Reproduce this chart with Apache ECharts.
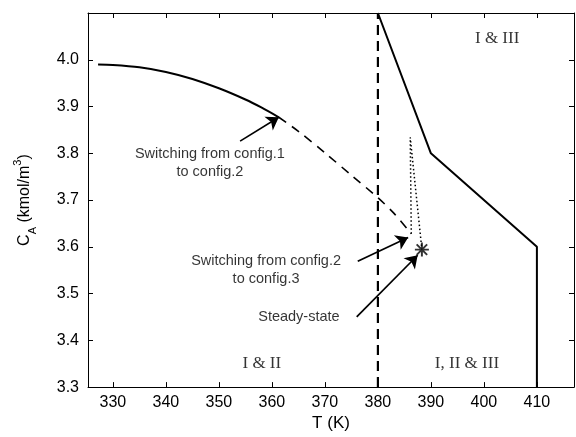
<!DOCTYPE html>
<html>
<head>
<meta charset="utf-8">
<script src="https://cdn.jsdelivr.net/npm/echarts@6/dist/echarts.min.js"></script>
<style>html,body{margin:0;padding:0;background:#fff}#c{width:576px;height:437px}</style>
</head>
<body>
<div id="c"></div>
<script>
// ---- data ----
const xTicks = [330, 340, 350, 360, 370, 380, 390, 400, 410];
const yTicks = [3.3, 3.4, 3.5, 3.6, 3.7, 3.8, 3.9, 4.0];
const config1T = [327.2, 330, 335, 340, 345, 350, 355, 358, 361.3];
const config1C = [3.990, 3.989, 3.984, 3.974, 3.959, 3.939, 3.915, 3.898, 3.877];
const config2T = [361.3, 365, 370, 375, 380, 383, 386.3];
const config2C = [3.877, 3.847, 3.801, 3.753, 3.705, 3.672, 3.628];
const config3T = [386.3, 386.1, 388.3];
const config3C = [3.628, 3.834, 3.594];
const boundT = [380, 390, 410, 410];
const boundC = [4.1, 3.8, 3.6, 3.3];
const switchT = [380, 380];
const switchC = [3.3, 4.1];
const steadyT = 388.3, steadyC = 3.594;
const regionLabels = [
  {t: 402.5, c: 4.045, text: 'I & III'},
  {t: 358.1, c: 3.350, text: 'I & II'},
  {t: 396.8, c: 3.350, text: 'I, II & III'}
];
const notes = [
  {t: 348.3, c: 3.779, text: 'Switching from config.1\nto config.2'},
  {t: 358.9, c: 3.550, text: 'Switching from config.2\nto config.3'},
  {t: 365.1, c: 3.450, text: 'Steady-state'}
];
const arrows = [
  [[354.0, 3.826], [361.3, 3.877]],
  [[376.2, 3.569], [385.7, 3.620]],
  [[376.0, 3.450], [387.5, 3.582]]
];

const zip = (a, b) => a.map((v, i) => [v, b[i]]);
const sansFont = 'Liberation Sans, Arial, sans-serif';
const serifFont = 'Liberation Serif, Times New Roman, serif';

const chart = echarts.init(document.getElementById('c'), null, {renderer: 'canvas'});
const axisBase = {
  axisLine: {show: true, onZero: false, lineStyle: {color: '#000', width: 1}},
  splitLine: {show: false}
};
chart.setOption({
  backgroundColor: '#fff',
  animation: false,
  grid: {left: 88, right: 2, top: 13, bottom: 47},
  xAxis: [
    Object.assign({}, axisBase, {
      type: 'value', min: 325.3, max: 417, position: 'bottom',
      name: 'T (K)', nameLocation: 'middle', nameGap: 26,
      nameTextStyle: {fontFamily: sansFont, fontSize: 17, color: '#000'},
      axisTick: {show: true, inside: true, length: 5, customValues: xTicks, lineStyle: {color: '#000'}},
      axisLabel: {show: true, customValues: xTicks, fontFamily: sansFont, fontSize: 16, color: '#000', margin: 7}
    }),
    Object.assign({}, axisBase, {
      type: 'value', min: 325.3, max: 417, position: 'top',
      axisTick: {show: true, inside: true, length: 5, customValues: xTicks, lineStyle: {color: '#000'}},
      axisLabel: {show: false}
    })
  ],
  yAxis: [
    Object.assign({}, axisBase, {
      type: 'value', min: 3.3, max: 4.1, position: 'left',
      name: '{n|C}{sub|A}{n| (kmol/m}{sup|3}{n|)}', nameLocation: 'middle', nameGap: 50, nameRotate: 90,
      nameTextStyle: {
        fontFamily: sansFont, fontSize: 16, color: '#000',
        rich: {
          n: {fontFamily: sansFont, fontSize: 16, lineHeight: 26, color: '#000'},
          sub: {fontFamily: sansFont, fontSize: 11, lineHeight: 11, verticalAlign: 'bottom', color: '#000'},
          sup: {fontFamily: sansFont, fontSize: 11, lineHeight: 11, verticalAlign: 'top', color: '#000'}
        }
      },
      axisTick: {show: true, inside: true, length: 5, customValues: yTicks, lineStyle: {color: '#000'}},
      axisLabel: {show: true, customValues: yTicks, fontFamily: sansFont, fontSize: 16, color: '#000', margin: 9,
        formatter: v => v.toFixed(1)}
    }),
    Object.assign({}, axisBase, {
      type: 'value', min: 3.3, max: 4.1, position: 'right',
      axisTick: {show: true, inside: true, length: 5, customValues: yTicks, lineStyle: {color: '#000'}},
      axisLabel: {show: false}
    })
  ],
  series: [
    {type: 'line', data: zip(config1T, config1C), showSymbol: false, smooth: 0.3,
      lineStyle: {color: '#000', width: 2}},
    {type: 'line', data: zip(config2T, config2C), showSymbol: false, smooth: 0.3,
      lineStyle: {color: '#000', width: 1.6, type: [9, 7]}},
    {type: 'line', data: zip(config3T, config3C), showSymbol: false,
      lineStyle: {color: '#000', width: 1.5, type: [1.5, 2.5]}},
    {type: 'line', data: zip(boundT, boundC), showSymbol: false,
      lineStyle: {color: '#000', width: 2}},
    {type: 'line', data: zip(switchT, switchC), showSymbol: false,
      lineStyle: {color: '#000', width: 2.2, type: [10, 6]}},
    {type: 'scatter', data: [[steadyT, steadyC]], symbolSize: 14,
      symbol: 'path://M0,8.6H20V11.4H0Z M8.6,0H11.4V20H8.6Z M1.5,3.5L3.5,1.5L18.5,16.5L16.5,18.5Z M16.5,1.5L18.5,3.5L3.5,18.5L1.5,16.5Z',
      itemStyle: {color: '#000'}, z: 5},
    {type: 'lines', coordinateSystem: 'cartesian2d',
      data: arrows.map(a => ({coords: a})),
      symbol: ['none', 'arrow'], symbolSize: 12,
      lineStyle: {color: '#000', width: 1.7, opacity: 1}, z: 6},
    {type: 'scatter', symbolSize: 0,
      data: regionLabels.map(r => ({value: [r.t, r.c], name: r.text})),
      label: {show: true, position: 'inside', formatter: p => p.name,
        fontFamily: serifFont, fontSize: 17, color: '#000'}},
    {type: 'scatter', symbolSize: 0,
      data: notes.map(r => ({value: [r.t, r.c], name: r.text})),
      label: {show: true, position: 'inside', formatter: p => p.name, align: 'center',
        fontFamily: sansFont, fontSize: 14.5, lineHeight: 18, color: '#000'}}
  ]
});
</script>
</body>
</html>
